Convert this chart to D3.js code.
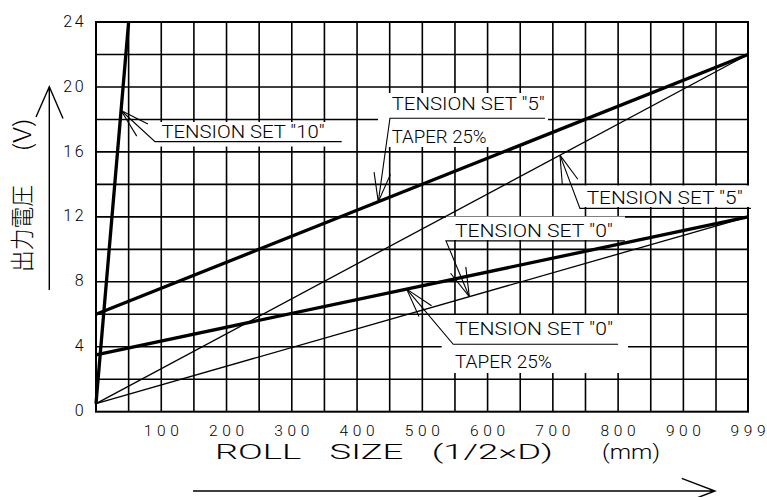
<!DOCTYPE html>
<html>
<head>
<meta charset="utf-8">
<script src="https://cdn.jsdelivr.net/npm/d3@7"></script>
<style>
  html, body { margin: 0; padding: 0; background: #fff; }
  svg { display: block; }
  text { font-family: Roboto, "Liberation Sans", sans-serif; font-weight: 300; fill: #000; }
  .cjk { font-family: "Noto Sans CJK JP", "Noto Sans CJK SC", sans-serif; font-weight: 300; }
</style>
</head>
<body>
<div id="chart"></div>
<script>
// Roll size vs output voltage chart

const WIDTH = 767;
const HEIGHT = 497;

// Axis ticks
const xTickValues = [100, 200, 300, 400, 500, 600, 700, 800, 900, 999];
const xTickLabels = ["100", "200", "300", "400", "500", "600", "700", "800", "900", "999"];
const yTickValues = [0, 4, 8, 12, 16, 20, 24];
const yTickLabels = ["0", "4", "8", "12", "16", "20", "24"];

// Series: [roll size (mm), voltage (V)]
const tension10 = [[0, 0.5], [50, 24]];
const tension5Taper = [[0, 6], [999, 22]];
const tension5 = [[0, 0.5], [999, 22]];
const tension0Taper = [[0, 3.5], [999, 12]];
const tension0 = [[0, 0.5], [999, 12]];

// Annotation texts and where their leaders touch the series (roll size)
const annotationTexts = [
  ['TENSION SET "10"'],
  ['TENSION SET "5"', "TAPER 25%"],
  ['TENSION SET "5"'],
  ['TENSION SET "0"'],
  ['TENSION SET "0"', "TAPER 25%"],
];
const annotationSeries = [tension10, tension5Taper, tension5, tension0, tension0Taper];
const annotationTipX = [38.4, 432.5, 710.9, 572, 476];
// elbow of the leader, in chart units [roll size, voltage]
const annotationElbow = [
  [90.4, 16.63],
  [450.4, 18.07],
  [741.5, 12.52],
  [536.2, 10.52],
  [547.4, 4.15],
];
const annotationUnderlineEnd = [376.4, 687.9, 1003.5, 810.5, 800];

// Layout (pixels)
const plotLeft = 96;
const plotRight = 748;
const plotTop = 22;
const plotBottom = 411.7;

// label layout: text offset from elbow, first baseline offset, knockout box
const labelLayout = [
  { dx: 6.5, dy: -3.6, widths: [163], box: [155, 122, 342, 146.5] },
  { dx: 1.7, dy: -8.3, widths: [153, 95], box: [378, 93, 548, 147] },
  { dx: 6.7, dy: -4.4, widths: [156], box: [583, 185.5, 752, 207] },
  { dx: 9, dy: -3.4, widths: [158], box: [446, 216.5, 625, 240] },
  { dx: 1.7, dy: -9.3, widths: [158, 97], box: [441.7, 315, 628, 373] },
];

const xScale = d3.scaleLinear([0, 999], [plotLeft, plotRight]);
const yScale = d3.scaleLinear([0, 24], [plotBottom, plotTop]);

/**
 * Voltage of a series at a roll size (linear between its points)
 */
function valueAt(series, x) {
  const [p0, p1] = series;
  return p0[1] + ((p1[1] - p0[1]) * (x - p0[0])) / (p1[0] - p0[0]);
}

const svg = d3
  .select("#chart")
  .append("svg")
  .attr("width", WIDTH)
  .attr("height", HEIGHT);

// Grid
const gridX = d3.range(50, 999, 50);
const gridY = d3.range(2, 24, 2);

svg.append("g")
  .selectAll("line")
  .data(gridX)
  .enter()
  .append("line")
  .attr("x1", (d) => xScale(d))
  .attr("x2", (d) => xScale(d))
  .attr("y1", plotTop)
  .attr("y2", plotBottom)
  .attr("stroke", "#000")
  .attr("stroke-width", 1.6);

svg.append("g")
  .selectAll("line")
  .data(gridY)
  .enter()
  .append("line")
  .attr("x1", plotLeft)
  .attr("x2", plotRight)
  .attr("y1", (d) => yScale(d))
  .attr("y2", (d) => yScale(d))
  .attr("stroke", "#000")
  .attr("stroke-width", 1.6);

svg.append("rect")
  .attr("x", plotLeft)
  .attr("y", plotTop)
  .attr("width", plotRight - plotLeft)
  .attr("height", plotBottom - plotTop)
  .attr("fill", "none")
  .attr("stroke", "#000")
  .attr("stroke-width", 2);

// White boxes behind the labels
svg.append("g")
  .selectAll("rect")
  .data(labelLayout)
  .enter()
  .append("rect")
  .attr("x", (d) => d.box[0])
  .attr("y", (d) => d.box[1])
  .attr("width", (d) => d.box[2] - d.box[0])
  .attr("height", (d) => d.box[3] - d.box[1])
  .attr("fill", "#fff");

// Series lines
const line = d3
  .line()
  .x((d) => xScale(d[0]))
  .y((d) => yScale(d[1]));

const seriesList = [
  { data: tension10, width: 3.3 },
  { data: tension5Taper, width: 3.3 },
  { data: tension5, width: 1.3 },
  { data: tension0Taper, width: 3.3 },
  { data: tension0, width: 1.3 },
];

svg.append("g")
  .selectAll("path")
  .data(seriesList)
  .enter()
  .append("path")
  .attr("d", (d) => line(d.data))
  .attr("fill", "none")
  .attr("stroke", "#000")
  .attr("stroke-width", (d) => d.width);

// Tick labels
svg.append("g")
  .selectAll("text")
  .data(xTickValues)
  .enter()
  .append("text")
  .attr("x", (d) => xScale(d))
  .attr("y", 436)
  .attr("text-anchor", "middle")
  .attr("textLength", 35)
  .attr("lengthAdjust", "spacing")
  .style("font-size", "15.5px")
  .text((d, i) => xTickLabels[i]);

svg.append("g")
  .selectAll("text")
  .data(yTickValues)
  .enter()
  .append("text")
  .attr("x", 86)
  .attr("y", (d) => yScale(d) + 4.6)
  .attr("text-anchor", "end")
  .style("font-size", "16px")
  .style("letter-spacing", "2.5px")
  .text((d, i) => yTickLabels[i]);

// Annotations
const ARROW_LEN = 30;
const ARROW_ANGLE = (16 * Math.PI) / 180;

annotationTexts.forEach((lines, i) => {
  const g = svg.append("g");
  const layout = labelLayout[i];
  const tip = [
    xScale(annotationTipX[i]),
    yScale(valueAt(annotationSeries[i], annotationTipX[i])),
  ];
  const elbow = [xScale(annotationElbow[i][0]), yScale(annotationElbow[i][1])];
  const endX = xScale(annotationUnderlineEnd[i]);

  g.append("path")
    .attr("d", d3.line()([tip, elbow, [endX, elbow[1]]]))
    .attr("fill", "none")
    .attr("stroke", "#000")
    .attr("stroke-width", 1.1);

  // open arrowhead
  const ang = Math.atan2(elbow[1] - tip[1], elbow[0] - tip[0]);
  [-1, 1].forEach((s) => {
    g.append("line")
      .attr("x1", tip[0])
      .attr("y1", tip[1])
      .attr("x2", tip[0] + ARROW_LEN * Math.cos(ang + s * ARROW_ANGLE))
      .attr("y2", tip[1] + ARROW_LEN * Math.sin(ang + s * ARROW_ANGLE))
      .attr("stroke", "#000")
      .attr("stroke-width", 1.1);
  });

  lines.forEach((t, j) => {
    g.append("text")
      .attr("x", elbow[0] + layout.dx)
      .attr("y", elbow[1] + layout.dy + j * 33.3)
      .attr("textLength", layout.widths[j])
      .attr("lengthAdjust", "spacingAndGlyphs")
      .style("font-size", "18.5px")
      .text(t);
  });
});

// X axis title and arrow
svg.append("text")
  .attr("x", 215)
  .attr("y", 458.5)
  .attr("textLength", 338)
  .attr("lengthAdjust", "spacingAndGlyphs")
  .style("font-size", "20.5px")
  .style("word-spacing", "11px")
  .text("ROLL SIZE  (1/2×D)");

svg.append("text")
  .attr("x", 602)
  .attr("y", 458.5)
  .attr("textLength", 58)
  .attr("lengthAdjust", "spacingAndGlyphs")
  .style("font-size", "20.5px")
  .text("(mm)");

svg.append("path")
  .attr("d", "M193,491H715M681.7,478.3L715,491L681.7,503.7")
  .attr("fill", "none")
  .attr("stroke", "#000")
  .attr("stroke-width", 1.4);

// Y axis title and arrow
const yTitle = svg.append("text")
  .attr("class", "cjk")
  .attr("transform", "translate(31,272) rotate(-90)")
  .style("font-size", "24px");

yTitle.append("tspan")
  .attr("x", 0)
  .attr("textLength", 87)
  .attr("lengthAdjust", "spacingAndGlyphs")
  .text("出力電圧");

yTitle.append("tspan")
  .attr("x", 114)
  .attr("textLength", 40)
  .attr("lengthAdjust", "spacingAndGlyphs")
  .text(" (V)");

svg.append("path")
  .attr("d", "M49.3,290V86.7M36,117L49.3,86.7L63,118.5")
  .attr("fill", "none")
  .attr("stroke", "#000")
  .attr("stroke-width", 1.4);
</script>
</body>
</html>
